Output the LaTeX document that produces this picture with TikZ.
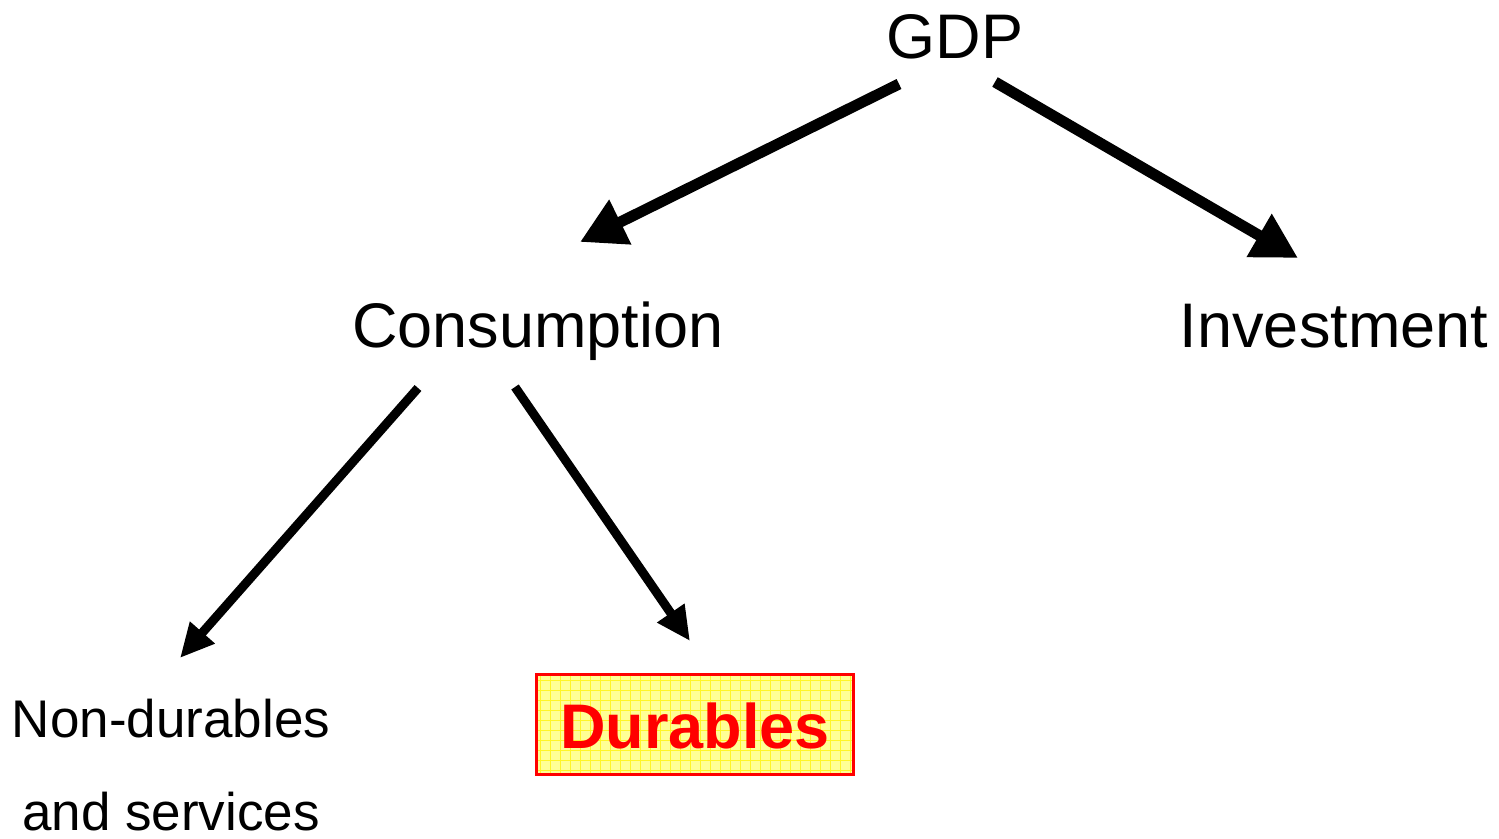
\documentclass[tikz,border=0pt]{standalone}
\usepackage{fontspec}
\setmainfont{Liberation Sans}
\usetikzlibrary{arrows.meta}
\definecolor{boxfill}{RGB}{255,255,150}
\definecolor{gridyel}{RGB}{255,245,40}
\begin{document}
\begin{tikzpicture}[x=1pt,y=-1pt,
  big/.style={anchor=base,inner sep=0pt,font=\fontsize{63}{63}\selectfont},
  small/.style={anchor=base,inner sep=0pt,font=\fontsize{53}{53}\selectfont},
  bigarrow/.style={line width=11pt,-{Triangle[length=45pt,width=47pt]}},
  smallarrow/.style={line width=9pt,-{Triangle[length=34pt,width=31pt]}}]
\useasboundingbox (0,0) rectangle (1499,838);
% Durables box
\fill[boxfill] (536,675) rectangle (852,774);
\begin{scope}
\clip (536,675) rectangle (852,774);
\draw[gridyel,line width=0.5pt,step=10pt] (530,670) grid (860,780);
\end{scope}
\node[draw=red,line width=3pt,minimum width=317pt,minimum height=100pt,inner sep=0pt] (boxd) at (694.5,724.5) {};
\node[big,text=red,font=\fontsize{63}{63}\selectfont\bfseries] (dur) at (695,748) {Durables};
% texts
\node[big] (gdp) at (955,58) {GDP};
\node[big] (cons) at (538,347) {Consumption};
\node[big] (inv) at (1334,347) {Investment};
\node[small] (nd1) at (171,737) {Non-durables};
\node[small] (nd2) at (171,830) {and services};
% connector endpoints
\coordinate (g1) at (899,84);
\coordinate (c1) at (580,242);
\coordinate (g2) at (995,82);
\coordinate (i1) at (1298,258);
\coordinate (c2) at (418,388);
\coordinate (n1) at (180,658);
\coordinate (c3) at (515,387);
\coordinate (d1) at (690,641);
\draw[bigarrow] (g1) -- (c1);
\draw[bigarrow] (g2) -- (i1);
\draw[smallarrow] (c2) -- (n1);
\draw[smallarrow] (c3) -- (d1);
\end{tikzpicture}
\end{document}
